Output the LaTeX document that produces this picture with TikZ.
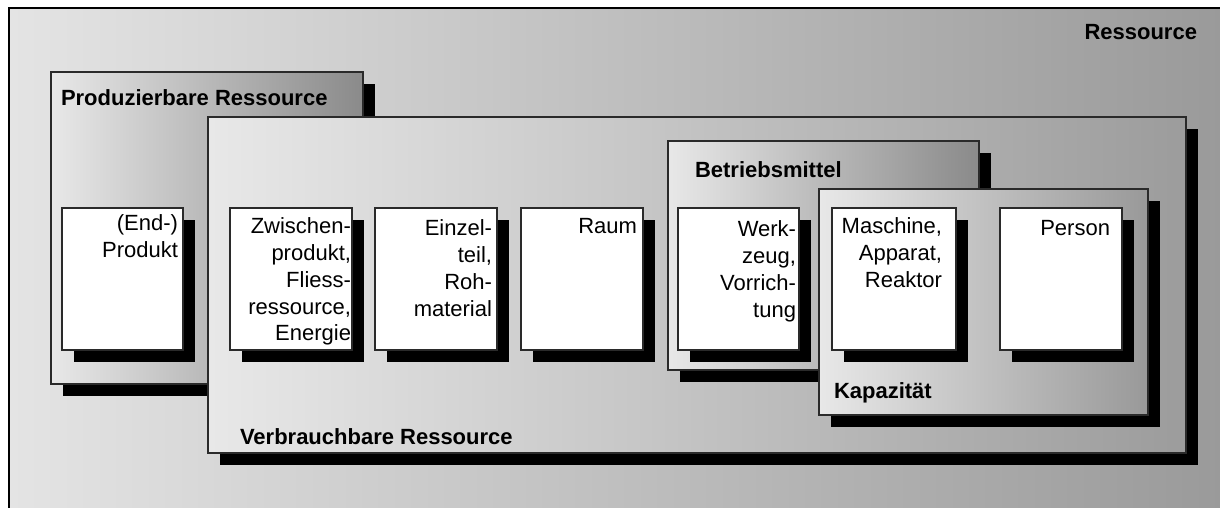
\documentclass[tikz,border=0pt]{standalone}
\usepackage{fontspec}
\setmainfont{Liberation Sans}
\usetikzlibrary{shadows}
\definecolor{shadelight}{HTML}{E8E8E8}
\definecolor{outerlight}{HTML}{E4E4E4}
\definecolor{outerdark}{HTML}{999999}
\definecolor{groupdark}{HTML}{8A8A8A}
\definecolor{widedark}{HTML}{9C9C9C}
\definecolor{edge}{HTML}{2A2A2A}
\begin{document}
\begin{tikzpicture}[x=1pt, y=-1pt,
  every node/.style={inner sep=0pt, outer sep=0pt},
  panel/.style={rectangle, draw=edge, line width=1.3pt, anchor=north west,
    general shadow={fill=black, shadow xshift=12pt, shadow yshift=-12pt}},
  group/.style={panel, left color=shadelight, right color=#1},
  item/.style={panel, fill=white, minimum height=142pt},
  title/.style={font=\fontsize{22}{26.5}\selectfont\bfseries, anchor=base west},
  entry/.style={font=\fontsize{22}{26.7}\selectfont, align=right, anchor=north east},
]
\path[use as bounding box] (0,0) rectangle (1220,508);
\clip (0,0) rectangle (1220,508);

% outer frame
\node[rectangle, draw=black, line width=2pt, anchor=north west,
      left color=outerlight, right color=outerdark,
      minimum width=1230pt, minimum height=520pt] (res) at (9,8) {};
\node[title, anchor=base east] (resL) at (1197,40) {Ressource};

% producible resources
\node[group=groupdark, minimum width=312pt, minimum height=312pt] (prod) at (51,72) {};
\node[title] (prodL) at (61,106) {Produzierbare Ressource};
\node[item, minimum width=121pt] (endp) at (62,208) {};
\node[entry] (endpT) at (178,215) {(End-)\\Produkt};

% consumable resources
\node[group=widedark, minimum width=978pt, minimum height=336pt] (verb) at (208,117) {};
\node[title] (verbL) at (240,444) {Verbrauchbare Ressource};
\node[item, minimum width=122pt] (zwi) at (230,208) {};
\node[entry] (zwiT) at (351,218) {Zwischen-\\produkt,\\Fliess-\\ressource,\\Energie};
\node[item, minimum width=122pt] (ein) at (375,208) {};
\node[entry] (einT) at (492,220) {Einzel-\\teil,\\Roh-\\material};
\node[item, minimum width=122pt] (raum) at (521,208) {};
\node[entry] (raumT) at (637,218) {Raum};

% operating resources
\node[group=groupdark, minimum width=311pt, minimum height=229pt] (betr) at (668,141) {};
\node[title] (betrL) at (695,177) {Betriebsmittel};
\node[item, minimum width=121pt] (werk) at (678,208) {};
\node[entry] (werkT) at (796,221) {Werk-\\zeug,\\Vorrich-\\tung};

% capacity
\node[group=outerdark, minimum width=329pt, minimum height=226pt] (kap) at (819,189) {};
\node[title] (kapL) at (834,398) {Kapazität};
\node[item, minimum width=124pt] (masch) at (832,208) {};
\node[entry] (maschT) at (942,218) {Maschine,\\Apparat,\\Reaktor};
\node[item, minimum width=122pt] (pers) at (1000,208) {};
\node[entry] (persT) at (1110,220) {Person};
\end{tikzpicture}
\end{document}
